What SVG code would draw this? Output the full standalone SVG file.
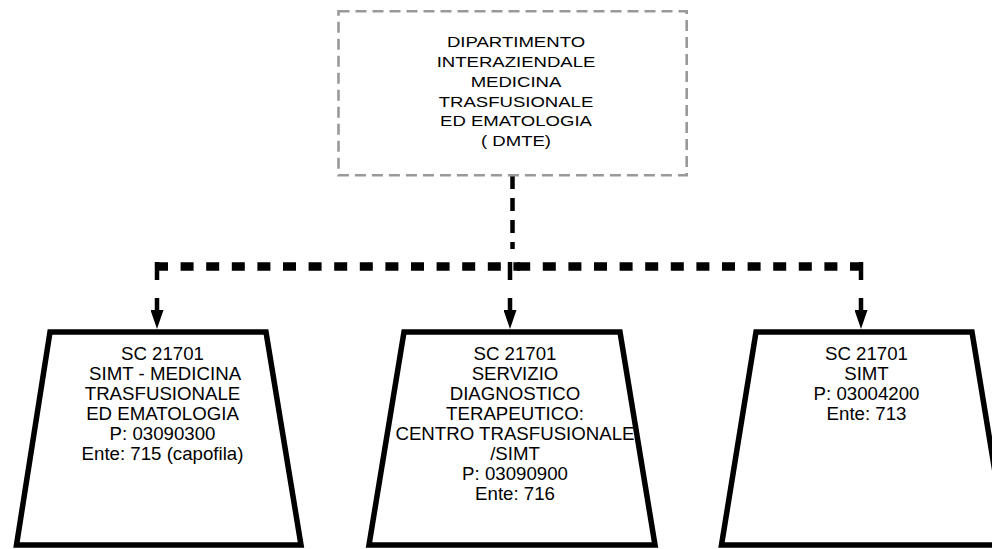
<svg xmlns="http://www.w3.org/2000/svg" width="992" height="549" viewBox="0 0 992 549">
<style>
.lbl{font-family:"Liberation Sans",Arial,sans-serif;fill:#000;text-anchor:middle;white-space:pre}
.top{font-size:14.67px}
.sub{font-size:18.67px}
.trap{fill:#fff;stroke:#000;stroke-width:5.5;stroke-linejoin:miter}
.hz{fill:none;stroke:#000;stroke-width:8.5}
.vt{fill:none;stroke:#000;stroke-width:4.5;stroke-dasharray:18 18 100}
</style>
<defs>
<marker id="arr" markerUnits="userSpaceOnUse" viewBox="0 0 19 13" markerWidth="19" markerHeight="13" refX="0" refY="6.5" orient="auto">
<path d="M0,0 L19,6.5 L0,13 z" fill="#000"/>
</marker>
</defs>
<rect width="992" height="549" fill="#fff"/>
<g id="connectors">
<path d="M512.5,176 V249" fill="none" stroke="#000" stroke-width="4.5" stroke-dasharray="13 9"/>
<path class="hz" d="M155,266.5 H520" stroke-dasharray="13 12.6"/>
<path class="hz" d="M863,266.5 H505" stroke-dasharray="13 12.6"/>
<path class="vt" d="M157,262 V310" marker-end="url(#arr)"/>
<path class="vt" d="M510,262 V310" marker-end="url(#arr)"/>
<path class="vt" d="M861,262 V310" marker-end="url(#arr)"/>
</g>
<g id="dmte">
<rect x="338.5" y="11.3" width="348.2" height="164" fill="#fff" stroke="#999" stroke-width="2.6" stroke-dasharray="11 6"/>
<g transform="translate(516,0) scale(1.265,1)">
<text class="lbl top" x="0" y="47.5">DIPARTIMENTO</text>
<text class="lbl top" x="0" y="67.2">INTERAZIENDALE</text>
<text class="lbl top" x="0" y="86.9">MEDICINA</text>
<text class="lbl top" x="0" y="106.6">TRASFUSIONALE</text>
<text class="lbl top" x="0" y="126.3">ED EMATOLOGIA</text>
<text class="lbl top" x="0" y="146">( DMTE)</text>
</g>
</g>
<g id="sc1">
<path class="trap" d="M50,332 H266 L301,545 H16.5 Z"/>
<text class="lbl sub" x="162.5" y="360">SC 21701</text>
<text class="lbl sub" x="162.5" y="380"> SIMT - MEDICINA</text>
<text class="lbl sub" x="162.5" y="400">TRASFUSIONALE</text>
<text class="lbl sub" x="162.5" y="420">ED EMATOLOGIA</text>
<text class="lbl sub" x="162.5" y="440">P: 03090300</text>
<text class="lbl sub" x="162.5" y="460">Ente: 715 (capofila)</text>
</g>
<g id="sc2">
<path class="trap" d="M404,332 H620 L655,545 H369 Z"/>
<text class="lbl sub" x="515" y="360">SC 21701</text>
<text class="lbl sub" x="515" y="380">SERVIZIO</text>
<text class="lbl sub" x="515" y="400">DIAGNOSTICO</text>
<text class="lbl sub" x="515" y="420">TERAPEUTICO:</text>
<text class="lbl sub" x="515" y="440">CENTRO TRASFUSIONALE</text>
<text class="lbl sub" x="515" y="460">/SIMT</text>
<text class="lbl sub" x="515" y="480">P: 03090900</text>
<text class="lbl sub" x="515" y="500">Ente: 716</text>
</g>
<g id="sc3">
<path class="trap" d="M756,332 H972 L1007,545 H721.5 Z"/>
<text class="lbl sub" x="866.5" y="360">SC 21701</text>
<text class="lbl sub" x="866.5" y="380">SIMT</text>
<text class="lbl sub" x="866.5" y="400">P: 03004200</text>
<text class="lbl sub" x="866.5" y="420">Ente: 713</text>
</g>
</svg>
